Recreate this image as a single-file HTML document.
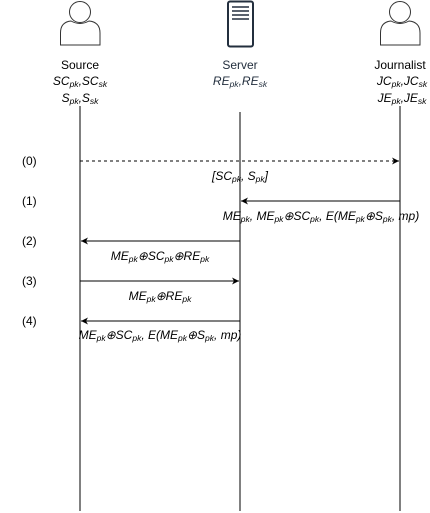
<!DOCTYPE html>
<html><head><style>
html,body{margin:0;padding:0;background:#fff;}
svg{display:block;font-family:"Liberation Sans",Arial,sans-serif;}
.i{font-style:italic;font-size:12px;}
.s{font-size:8.5px;}
</style></head><body>
<svg width="430" height="513" viewBox="0 0 430 513" xmlns="http://www.w3.org/2000/svg">
<defs>
<marker id="a" markerWidth="8" markerHeight="8" refX="7" refY="4" orient="auto" markerUnits="userSpaceOnUse">
<path d="M0,0.5 L7,4 L0,7.5 L2,4 Z" fill="#000"/>
</marker>
</defs>
<g fill="#fff" stroke="#333" stroke-width="1">
<circle cx="80" cy="12" r="10.5"/>
<path d="M60.5,45 L60.5,33 Q60.5,22 71,21 Q80,26 89,21 Q100,22 100,33 L100,45 Z"/>
<circle cx="400" cy="12" r="10.5"/>
<path d="M380.5,45 L380.5,33 Q380.5,22 391,21 Q400,26 409,21 Q420,22 420,33 L420,45 Z"/>
</g>
<rect x="228" y="1.5" width="25" height="45" rx="2" fill="#fff" stroke="#232f3e" stroke-width="2"/>
<g stroke="#232f3e" stroke-width="1.5">
<line x1="232" y1="7" x2="249" y2="7"/>
<line x1="232" y1="11" x2="249" y2="11"/>
<line x1="232" y1="15" x2="249" y2="15"/>
<line x1="232" y1="19" x2="249" y2="19"/>
</g>
<g font-size="12" text-anchor="middle">
<text x="80" y="69">Source</text>
<text x="240" y="69" fill="#232f3e">Server</text>
<text x="400" y="69">Journalist</text>
</g>
<g class="i" text-anchor="middle">
<text x="80" y="85">SC<tspan class="s" dy="2">pk</tspan><tspan dy="-2">,SC</tspan><tspan class="s" dy="2">sk</tspan></text>
<text x="80" y="102">S<tspan class="s" dy="2">pk</tspan><tspan dy="-2">,S</tspan><tspan class="s" dy="2">sk</tspan></text>
<text x="240" y="85" fill="#232f3e">RE<tspan class="s" dy="2">pk</tspan><tspan dy="-2">,RE</tspan><tspan class="s" dy="2">sk</tspan></text>
<text x="402" y="85">JC<tspan class="s" dy="2">pk</tspan><tspan dy="-2">,JC</tspan><tspan class="s" dy="2">sk</tspan></text>
<text x="402" y="102">JE<tspan class="s" dy="2">pk</tspan><tspan dy="-2">,JE</tspan><tspan class="s" dy="2">sk</tspan></text>
</g>
<g stroke="#000" stroke-width="1">
<line x1="80" y1="106" x2="80" y2="511"/>
<line x1="240" y1="112" x2="240" y2="511"/>
<line x1="400" y1="106" x2="400" y2="511"/>
</g>
<g font-size="12">
<text x="22" y="165">(0)</text>
<text x="22" y="205">(1)</text>
<text x="22" y="245">(2)</text>
<text x="22" y="285">(3)</text>
<text x="22" y="325">(4)</text>
</g>
<g stroke="#000" stroke-width="1" fill="none">
<line x1="80" y1="161" x2="399" y2="161" stroke-dasharray="3,3" marker-end="url(#a)"/>
<line x1="400" y1="201" x2="241" y2="201" marker-end="url(#a)"/>
<line x1="240" y1="241" x2="81" y2="241" marker-end="url(#a)"/>
<line x1="80" y1="281" x2="239" y2="281" marker-end="url(#a)"/>
<line x1="240" y1="321" x2="81" y2="321" marker-end="url(#a)"/>
</g>
<g class="i" text-anchor="middle">
<text x="240" y="180">[SC<tspan class="s" dy="2">pk</tspan><tspan dy="-2">, S</tspan><tspan class="s" dy="2">pk</tspan><tspan dy="-2">]</tspan></text>
<text x="321" y="220">ME<tspan class="s" dy="2">pk</tspan><tspan dy="-2">, ME</tspan><tspan class="s" dy="2">pk</tspan><tspan dy="-2">⊕SC</tspan><tspan class="s" dy="2">pk</tspan><tspan dy="-2">, E(ME</tspan><tspan class="s" dy="2">pk</tspan><tspan dy="-2">⊕S</tspan><tspan class="s" dy="2">pk</tspan><tspan dy="-2">, mp)</tspan></text>
<text x="160" y="260">ME<tspan class="s" dy="2">pk</tspan><tspan dy="-2">⊕SC</tspan><tspan class="s" dy="2">pk</tspan><tspan dy="-2">⊕RE</tspan><tspan class="s" dy="2">pk</tspan></text>
<text x="160" y="300">ME<tspan class="s" dy="2">pk</tspan><tspan dy="-2">⊕RE</tspan><tspan class="s" dy="2">pk</tspan></text>
<text x="160" y="339">ME<tspan class="s" dy="2">pk</tspan><tspan dy="-2">⊕SC</tspan><tspan class="s" dy="2">pk</tspan><tspan dy="-2">, E(ME</tspan><tspan class="s" dy="2">pk</tspan><tspan dy="-2">⊕S</tspan><tspan class="s" dy="2">pk</tspan><tspan dy="-2">, mp)</tspan></text>
</g>
</svg>
</body></html>
